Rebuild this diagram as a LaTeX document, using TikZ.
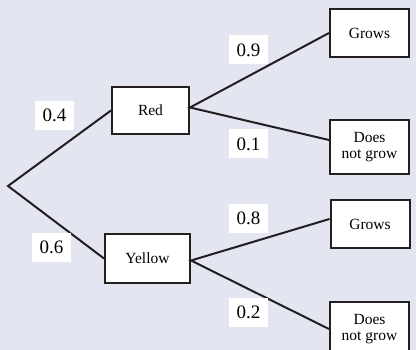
\documentclass[tikz,border=0pt]{standalone}
\usepackage{fontspec}
\setmainfont{Liberation Serif}
\usetikzlibrary{positioning}
\definecolor{paper}{RGB}{227,229,241}
\definecolor{ink}{RGB}{35,31,32}

\begin{document}
\begin{tikzpicture}[x=1pt, y=1pt,
  box/.style={rectangle, draw=ink, fill=white, line width=2pt,
              minimum width=79pt, minimum height=48pt, inner sep=1pt,
              font=\fontsize{15.5}{16.5}\selectfont, align=center},
  prob/.style={rectangle, fill=white, minimum width=39pt, minimum height=29pt,
               inner sep=0pt, font=\fontsize{19}{21}\selectfont},
  branch/.style={draw=ink, line width=2pt, line join=miter}]
  \fill[paper] (0,0) rectangle (416,350);
  \useasboundingbox (0,0) rectangle (416,350);
  \clip (0,0) rectangle (416,350);
  % first choice: colour of the seed
  \coordinate (start) at (8,164);
  \node[box, minimum width=77pt, minimum height=47pt] (red) at (150.5,239.5) {Red};
  \node[box, minimum width=85pt, minimum height=49pt] (yellow) at (147.5,91.5) {Yellow};
  % outcomes
  \node[box] (redgrow) at (369.5,317) {Grows};
  \node[box, minimum height=54pt] (rednot) at (369.5,203) {Does\\not grow};
  \node[box] (yelgrow) at (370,126) {Grows};
  \node[box, minimum height=54pt] (yelnot) at (369.5,21) {Does\\not grow};
  % branches
  \draw[branch] (red.west) -- (start) -- (yellow.west);
  \draw[branch] (redgrow.west) -- ([yshift=3pt]red.east) -- ([yshift=7pt]rednot.west);
  \draw[branch] ([yshift=5pt]yelgrow.west) -- ([yshift=-2pt]yellow.east) -- (yelnot.west);
  % probabilities
  \node[prob] (p4) at (54.5,234.5) {0.4};
  \node[prob] (p6) at (51.5,102.5) {0.6};
  \node[prob] (p9) at (248.5,300) {0.9};
  \node[prob] (p1) at (248.5,206) {0.1};
  \node[prob] (p8) at (248.5,131.5) {0.8};
  \node[prob] (p2) at (248.5,37.5) {0.2};
\end{tikzpicture}
\end{document}
